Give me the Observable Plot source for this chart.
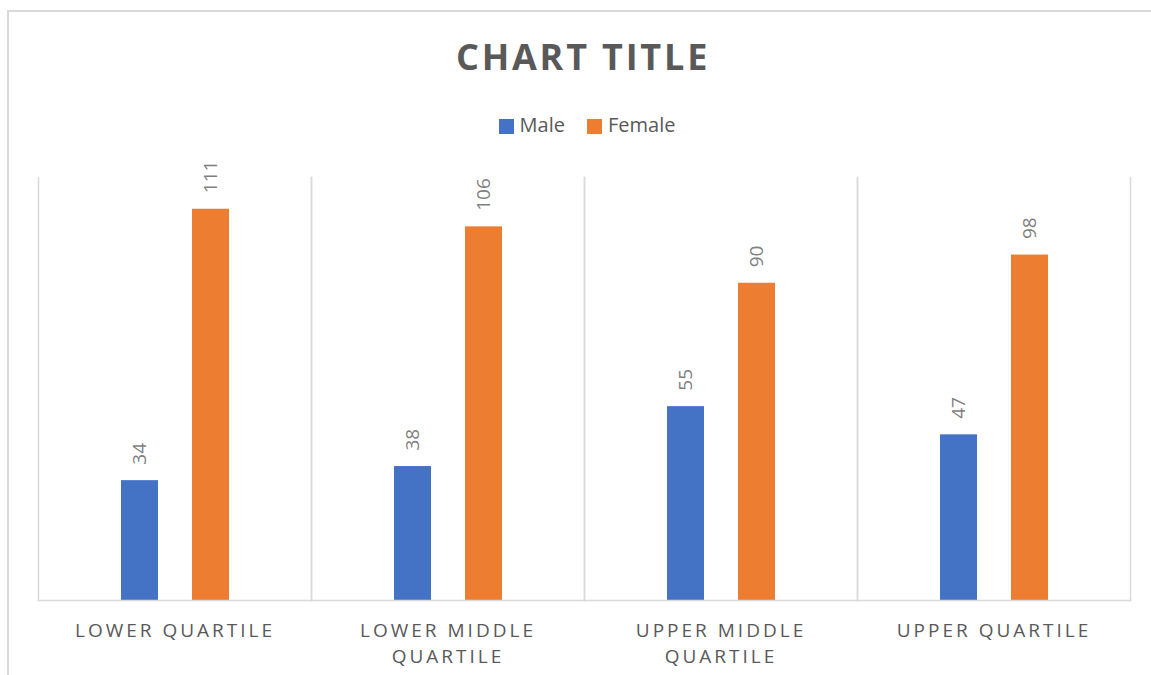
<!DOCTYPE html>
<html>
<head>
<meta charset="utf-8">
<script src="https://cdn.jsdelivr.net/npm/d3@7"></script>
<script src="https://cdn.jsdelivr.net/npm/@observablehq/plot@0.6"></script>
<style>
  html, body { margin: 0; padding: 0; background: #fff; }
  #wrap { position: relative; width: 1151px; height: 675px; overflow: hidden; font-family: "Open Sans", sans-serif; }
  #border { position: absolute; left: 7px; top: 10px; width: 1160px; height: 700px; border: 2px solid #d9d9d9; box-sizing: border-box; }
  #title { position: absolute; left: 0; top: 39px; width: 1166px; text-align: center; font-size: 36px; line-height: 36px; font-weight: 700; letter-spacing: 2.8px; color: #595959; }
  #legend { position: absolute; left: 0; top: 115px; width: 1174px; display: flex; justify-content: center; align-items: center; font-size: 20px; line-height: 20px; color: #595959; }
  .item { display: flex; align-items: center; margin: 0 11px; }
  .sw { width: 15px; height: 15px; margin-right: 6px; margin-top: 3px; }
  #chart { position: absolute; left: 0; top: 140px; }
</style>
</head>
<body>
<div id="wrap">
  <div id="border"></div>
  <div id="title">CHART TITLE</div>
  <div id="legend"></div>
  <div id="chart"></div>
</div>
<script>
const categories = ["Lower Quartile", "Lower Middle Quartile", "Upper Middle Quartile", "Upper Quartile"];
const tickLabels = ["LOWER QUARTILE", "LOWER MIDDLE\nQUARTILE", "UPPER MIDDLE\nQUARTILE", "UPPER QUARTILE"];
const series = ["Male", "Female"];
const maleValues = [34, 38, 55, 47];
const femaleValues = [111, 106, 90, 98];
const colors = ["#4472C4", "#ED7D31"];

const data = categories.flatMap((c, i) => [
  {category: c, series: "Male", value: maleValues[i]},
  {category: c, series: "Female", value: femaleValues[i]}
]);

const legend = document.getElementById("legend");
series.forEach((s, i) => {
  const item = document.createElement("div");
  item.className = "item";
  item.innerHTML = `<span class="sw" style="background:${colors[i]}"></span><span>${s}</span>`;
  legend.appendChild(item);
});

const chart = Plot.plot({
  width: 1151,
  height: 535,
  marginTop: 37,
  marginBottom: 75,
  marginLeft: 37,
  marginRight: 20,
  style: {fontFamily: "Open Sans, sans-serif", background: "transparent"},
  fx: {domain: categories, padding: 0, axis: null},
  x: {domain: series, paddingInner: 0.479, paddingOuter: 1.162, axis: null},
  y: {domain: [0, 120], axis: null},
  color: {domain: series, range: colors},
  marks: [
    Plot.frame({anchor: "left", stroke: "#d9d9d9", strokeWidth: 1.5}),
    Plot.frame({anchor: "right", stroke: "#d9d9d9", strokeWidth: 1.5}),
    Plot.barY(data, {fx: "category", x: "series", y: "value", fill: "series"}),
    Plot.frame({anchor: "bottom", stroke: "#d9d9d9", strokeWidth: 1.5}),
    Plot.text(data, {fx: "category", x: "series", y: "value", text: d => String(d.value),
      rotate: -90, textAnchor: "start", lineAnchor: "middle", dy: -16, fill: "#7f7f7f", fontSize: 19}),
    Plot.text(categories, {fx: d => d, text: (d, i) => tickLabels[i], frameAnchor: "bottom",
      lineAnchor: "top", dy: 18, dx: 0, lineHeight: 1.368, fontSize: 19, fill: "#595959"})
  ]
});
d3.select(chart).selectAll("text")
  .filter(function() { return /QUARTILE/.test(this.textContent); })
  .attr("letter-spacing", "3px")
  .style("letter-spacing", "3px");
document.getElementById("chart").appendChild(chart);
</script>
</body>
</html>
